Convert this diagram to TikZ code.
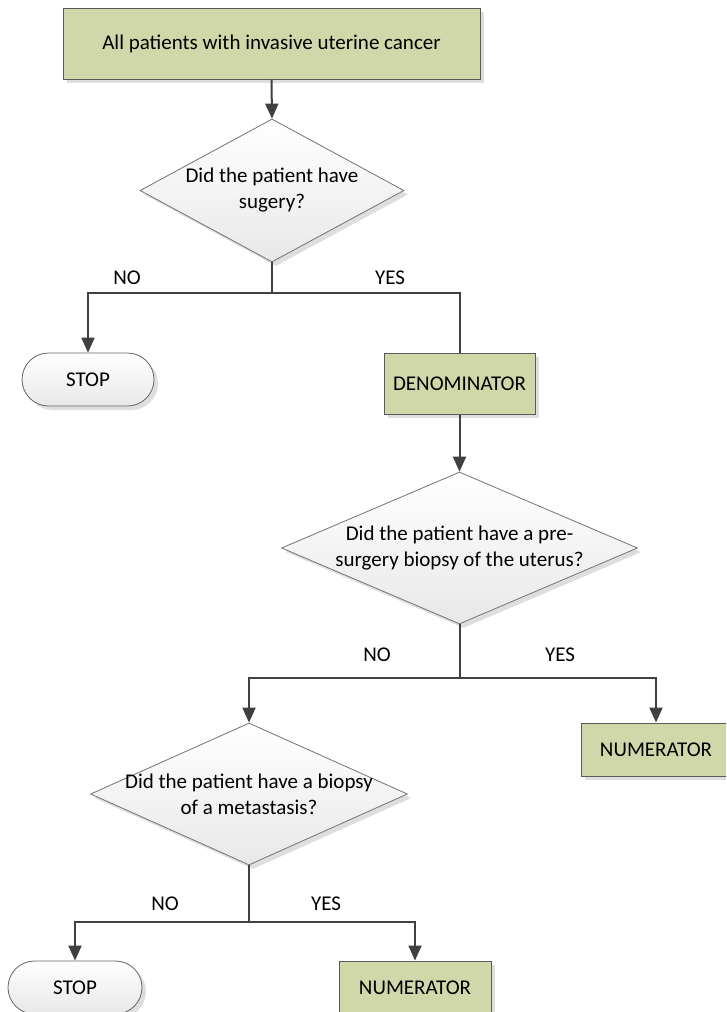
\documentclass[tikz,border=0pt]{standalone}
\usepackage{fontspec}
\setmainfont{Carlito}
\usetikzlibrary{shapes.geometric,shapes.misc,arrows.meta,shadows}
\definecolor{boxgreen}{RGB}{208,216,170}
\definecolor{linegray}{RGB}{64,64,64}
\definecolor{bordergray}{RGB}{90,90,90}
\begin{document}
\begin{tikzpicture}[x=1pt,y=-1pt,
  every node/.style={font=\fontsize{21}{26}\selectfont, text=black},
  shad/.style={drop shadow={shadow xshift=4pt, shadow yshift=-4pt, fill=black!13, opacity=1}},
  greenbox/.style={rectangle, draw=bordergray, line width=1pt, fill=boxgreen, inner sep=0pt, shad},
  decision/.style={diamond, draw=black!55, line width=0.8pt, top color=white, bottom color=black!9, inner sep=0pt, shad},
  terminal/.style={rounded rectangle, draw=black!60, line width=0.8pt, top color=white, bottom color=black!9, inner sep=0pt, shad},
  flow/.style={draw=linegray, line width=2pt},
  arr/.style={flow, -{Triangle[length=15pt,width=13pt]}},
  lbl/.style={inner sep=0pt}
]
\clip (0,0) rectangle (726,1012);
\fill[white] (0,0) rectangle (726,1012);

% nodes
\node[greenbox, minimum width=417pt, minimum height=71pt] (top) at (271.5,43.5) {All patients with invasive uterine cancer};
\node[decision, minimum width=264pt, minimum height=143pt] (d1) at (272,190.5) {};
\node[align=center] (d1t) at (d1.center) {Did the patient have\\sugery?};
\node[terminal, minimum width=132pt, minimum height=53pt] (stop1) at (88,379.5) {STOP};
\node[greenbox, minimum width=151pt, minimum height=61pt] (den) at (459.5,383.5) {DENOMINATOR};
\node[decision, minimum width=356pt, minimum height=152pt] (d2) at (459.5,548) {};
\node[align=center] (d2t) at (d2.center) {Did the patient have a pre-\\surgery biopsy of the uterus?};
\node[greenbox, minimum width=150pt, minimum height=53pt] (num1) at (656,749.5) {NUMERATOR};
\node[decision, minimum width=317pt, minimum height=142pt] (d3) at (249,794) {};
\node[align=center] (d3t) at (d3.center) {Did the patient have a biopsy\\of a metastasis?};
\node[terminal, minimum width=134pt, minimum height=53pt] (stop2) at (75,987.5) {STOP};
\node[greenbox, minimum width=152pt, minimum height=53pt] (num2) at (415,987.5) {NUMERATOR};

% labels
\node[lbl] (no1) at (127,278) {NO};
\node[lbl] (yes1) at (390,278) {YES};
\node[lbl] (no2) at (377,655) {NO};
\node[lbl] (yes2) at (560,655) {YES};
\node[lbl] (no3) at (165,904) {NO};
\node[lbl] (yes3) at (326,904) {YES};

% split points
\coordinate (s1) at (272,293);
\coordinate (s2) at (459.5,678);
\coordinate (s3) at (249,922);

% connectors
\draw[arr] (top.south) -- (d1.north);
\draw[flow] (d1.south) -- (s1);
\draw[arr] (s1) -| (stop1.north);
\draw[flow] (s1) -| (den.north);
\draw[arr] (den.south) -- (d2.north);
\draw[flow] (d2.south) -- (s2);
\draw[arr] (s2) -| (d3.north);
\draw[arr] (s2) -| (num1.north);
\draw[flow] (d3.south) -- (s3);
\draw[arr] (s3) -| (stop2.north);
\draw[arr] (s3) -| (num2.north);
\end{tikzpicture}
\end{document}
